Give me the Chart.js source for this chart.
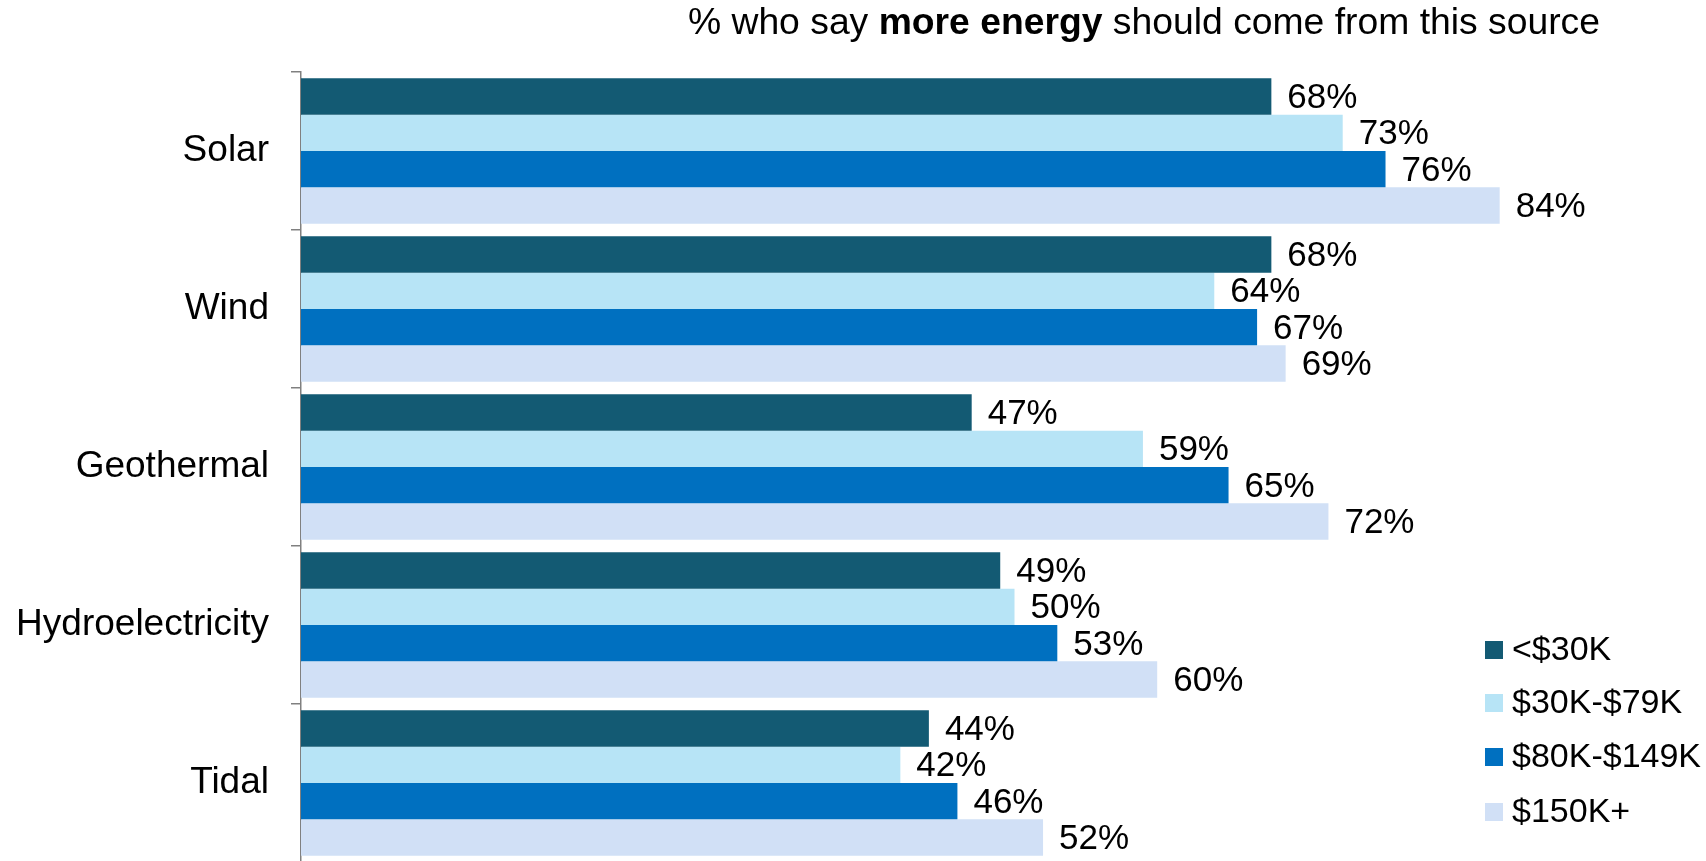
<!DOCTYPE html>
<html>
<head>
<meta charset="utf-8">
<script src="https://cdn.jsdelivr.net/npm/chart.js@4.4.1/dist/chart.umd.min.js"></script>
<style>
  html, body { margin: 0; padding: 0; background: #ffffff; overflow: hidden; }
  #wrap { position: relative; width: 1706px; height: 862px; }
</style>
</head>
<body>
<div id="wrap"><canvas id="c"></canvas></div>
<script>
const categories = ["Solar", "Wind", "Geothermal", "Hydroelectricity", "Tidal"];
const seriesNames = ["<$30K", "$30K-$79K", "$80K-$149K", "$150K+"];
const under30K = [68, 68, 47, 49, 44];
const k30to79 = [73, 64, 59, 50, 42];
const k80to149 = [76, 67, 65, 53, 46];
const k150plus = [84, 69, 72, 60, 52];
const seriesColors = ["#135A73", "#B7E4F6", "#0070C0", "#D1E0F6"];
const titleParts = [
  { text: "% who say ", bold: false },
  { text: "more energy", bold: true },
  { text: " should come from this source", bold: false }
];

const FONT = "'Liberation Sans', Arial, sans-serif";
const TITLE_SIZE = 37.3;

function titlePartsWidths(ctx) {
  return titleParts.map(p => {
    ctx.font = (p.bold ? 'bold ' : '') + TITLE_SIZE + 'px ' + FONT;
    return ctx.measureText(p.text).width;
  });
}

const titlePlugin = {
  id: 'mixedTitle',
  afterDraw(chart) {
    const ctx = chart.ctx;
    ctx.save();
    ctx.textBaseline = 'middle';
    ctx.textAlign = 'left';
    ctx.fillStyle = '#000';
    const widths = titlePartsWidths(ctx);
    const total = widths.reduce((a, b) => a + b, 0);
    let x = 1600 - total;
    titleParts.forEach((p, i) => {
      ctx.font = (p.bold ? 'bold ' : '') + TITLE_SIZE + 'px ' + FONT;
      ctx.fillText(p.text, x, 24);
      x += widths[i];
    });
    ctx.restore();
  }
};

const valueLabels = {
  id: 'valueLabels',
  afterDatasetsDraw(chart) {
    const ctx = chart.ctx;
    ctx.save();
    ctx.font = '35px ' + FONT;
    ctx.fillStyle = '#000';
    ctx.textAlign = 'left';
    ctx.textBaseline = 'middle';
    chart.data.datasets.forEach((ds, di) => {
      const meta = chart.getDatasetMeta(di);
      meta.data.forEach((el, i) => {
        ctx.fillText(ds.data[i] + '%', el.x + 16, el.y + 2);
      });
    });
    ctx.restore();
  }
};

const customLegend = {
  id: 'customLegend',
  afterDraw(chart) {
    const ctx = chart.ctx;
    ctx.save();
    ctx.font = '34px ' + FONT;
    ctx.textAlign = 'left';
    ctx.textBaseline = 'middle';
    const rows = [650, 703, 757, 812];
    chart.data.datasets.forEach((ds, i) => {
      const cy = rows[i];
      ctx.fillStyle = ds.backgroundColor;
      ctx.fillRect(1485, cy - 9, 18, 18);
      ctx.fillStyle = '#000';
      ctx.fillText(ds.label, 1512, cy + 1);
    });
    ctx.restore();
  }
};

const seriesData = [under30K, k30to79, k80to149, k150plus];

new Chart(document.getElementById('c'), {
  type: 'bar',
  data: {
    labels: categories,
    datasets: seriesNames.map((name, i) => ({
      label: name,
      data: seriesData[i],
      backgroundColor: seriesColors[i],
      borderWidth: 0,
      categoryPercentage: 0.92,
      barPercentage: 1.0
    }))
  },
  options: {
    indexAxis: 'y',
    responsive: true,
    maintainAspectRatio: false,
    animation: false,
    devicePixelRatio: 1,
    layout: { padding: { top: 72, right: 120.7, bottom: 0, left: 0 } },
    plugins: {
      legend: { display: false },
      title: { display: false },
      tooltip: { enabled: false }
    },
    scales: {
      x: {
        display: false,
        min: 0,
        max: 90
      },
      y: {
        afterFit(scale) {
          scale.width = 301;
          scale.paddingTop = 0;
          scale.paddingBottom = 0;
        },
        border: { display: true, color: '#808080', width: 1.5 },
        grid: {
          display: true,
          offset: true,
          drawOnChartArea: false,
          drawTicks: true,
          tickLength: 10,
          color: '#808080',
          lineWidth: 1.5
        },
        ticks: {
          color: '#000',
          padding: 22,
          font: { family: FONT, size: 37 }
        }
      }
    }
  },
  plugins: [titlePlugin, valueLabels, customLegend]
});
</script>
</body>
</html>
